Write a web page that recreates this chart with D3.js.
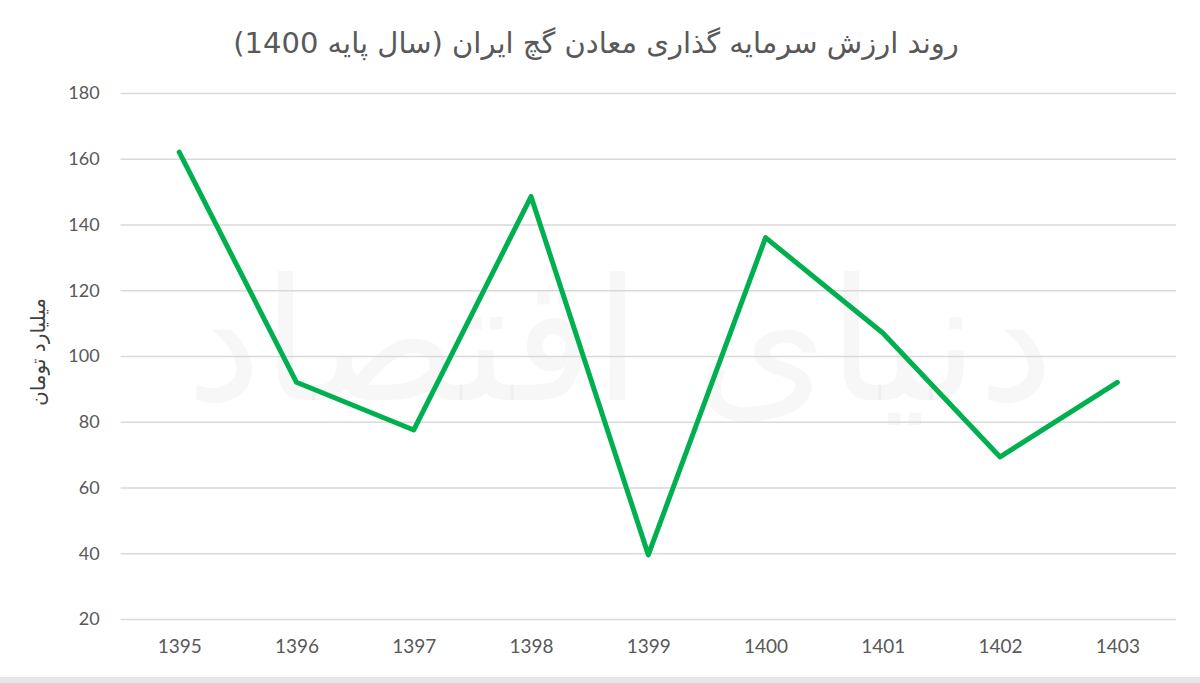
<!DOCTYPE html>
<html><head><meta charset="utf-8">
<script src="https://cdn.jsdelivr.net/npm/d3@7"></script>
<style>html,body{margin:0;padding:0;background:#fff;}svg{display:block;}</style>
</head><body>
<svg id="chart" width="1200" height="683"></svg>
<script>
const years = ["1395","1396","1397","1398","1399","1400","1401","1402","1403"];
const values = [162, 92, 77.5, 148.5, 39.5, 136, 107, 69.3, 92];
const yTicks = [20, 40, 60, 80, 100, 120, 140, 160, 180];
const titleText = "روند ارزش سرمایه گذاری معادن گچ ایران (سال پایه 1400)";
const yLabel = "میلیارد تومان";
const watermark = "دنیای اقتصاد";

const svg = d3.select("#chart");
const W = 1200, H = 683;
const m = {left: 120.6, right: 24, top: 93, bottom: 64};

svg.append("rect").attr("width", W).attr("height", H).attr("fill", "#fff");
svg.append("rect").attr("x", 0).attr("y", 677).attr("width", W).attr("height", 6).attr("fill", "#e6e6e6");

const x = d3.scalePoint().domain(years).range([m.left, W - m.right]).padding(0.5);
const y = d3.scaleLinear().domain([20, 180]).range([H - m.bottom, m.top]);

// watermark
svg.append("text").attr("x", 620).attr("y", 400)
  .attr("text-anchor", "middle").attr("direction", "rtl")
  .attr("font-family", "DejaVu Sans").attr("font-size", 170)
  .attr("fill", "#000").attr("fill-opacity", 0.03)
  .text(watermark);

// grid
const gy = svg.append("g").attr("transform", `translate(${m.left},0)`)
  .call(d3.axisLeft(y).tickValues(yTicks).tickSize(-(W - m.right - m.left)).tickFormat(d3.format("d")).tickPadding(21));
gy.select(".domain").remove();
gy.selectAll(".tick line").attr("stroke", "#d9d9d9").attr("stroke-width", 1.5);
gy.selectAll(".tick text").attr("fill", "#595959").attr("font-family", "Lato, 'Open Sans', sans-serif").attr("font-size", 18);

const gx = svg.append("g").attr("transform", `translate(0,${H - m.bottom})`)
  .call(d3.axisBottom(x).tickSize(0).tickPadding(21));
gx.select(".domain").remove();
gx.selectAll(".tick text").attr("fill", "#595959").attr("font-family", "Lato, 'Open Sans', sans-serif").attr("font-size", 19);

// line
const line = d3.line().x((d, i) => x(years[i])).y(d => y(d));
svg.append("path").datum(values).attr("d", line)
  .attr("fill", "none").attr("stroke", "#00b050").attr("stroke-width", 5)
  .attr("stroke-linejoin", "round").attr("stroke-linecap", "round");

// title
svg.append("text").attr("x", 596).attr("y", 53).attr("text-anchor", "middle")
  .attr("direction", "rtl")
  .attr("font-family", "'DejaVu Sans', sans-serif").attr("font-size", 29)
  .attr("fill", "#595959").text(titleText);

// y label
svg.append("text").attr("transform", "translate(45,352) rotate(-90)")
  .attr("text-anchor", "middle").attr("direction", "rtl")
  .attr("font-family", "'DejaVu Sans', sans-serif").attr("font-size", 20)
  .attr("fill", "#404040").text(yLabel);
</script>
</body></html>
